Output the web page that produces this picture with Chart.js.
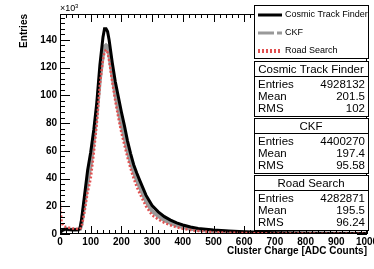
<!DOCTYPE html>
<html>
<head>
<meta charset="utf-8">
<script src="https://cdn.jsdelivr.net/npm/chart.js@4"></script>
<style>
  html, body { margin: 0; padding: 0; background: #fff; }
  #wrap { width: 374px; height: 269px; position: relative; }
</style>
</head>
<body>
<div id="wrap"><canvas id="myChart"></canvas></div>
<script>
// cluster charge (ADC counts), entries in units of 10^3
let charge = [0, 5, 10, 20, 30, 40, 50, 60, 65, 70, 80, 90, 100, 110, 120, 130, 140, 145, 150, 155, 160,
  170, 180, 190, 200, 210, 220, 230, 240, 250, 260, 280, 300, 320, 340, 360, 380, 400, 425, 450,
  500, 550, 600, 650, 700, 800, 900, 1000];
let ctfEntries = [1, 2, 3, 3.5, 3.2, 3, 3, 3.2, 4, 10, 28, 46, 59, 75, 95, 122, 142, 148, 148, 146, 140,
  124, 110, 99, 88, 78, 67, 58, 50, 44, 38.5, 28, 20.5, 16, 12.5, 10, 8, 6.5, 5, 4,
  2.9, 2.2, 1.6, 1.2, 0.9, 0.6, 0.4, 0.3];
let ckfEntries = [2, 2.5, 3, 3.5, 3.2, 3, 3, 3, 3.5, 7, 22, 38, 50, 68, 88, 112, 130, 135, 136, 135, 130,
  115, 101, 90, 79, 70, 60, 52, 45, 39, 34, 24, 16.5, 13, 10, 8, 6.3, 5, 3.8, 3,
  2.1, 1.5, 1.1, 0.8, 0.6, 0.4, 0.3, 0.2];
let rsEntries = [22, 9, 6, 5, 4.5, 4, 4, 3.5, 3.5, 5, 16, 30, 40, 58, 80, 108, 126, 131, 133, 131, 125,
  110, 96, 84, 73, 64, 55, 47, 40, 34, 29, 20, 13.5, 10.5, 8, 6.3, 4.8, 3.8, 2.8, 2.2,
  1.3, 1, 0.7, 0.5, 0.4, 0.3, 0.2, 0.2];

let seriesNames = ["Cosmic Track Finder", "CKF", "Road Search"];
let statEntries = ["4928132", "4400270", "4282871"];
let statMeans = ["201.5", "197.4", "195.5"];
let statRms = ["102", "95.58", "96.24"];

let xMax = 1000;
let yMax = 158.7;

function points(ys) {
  return charge.map((x, i) => ({ x: x, y: ys[i] }));
}

let font = "'Liberation Sans', Arial, sans-serif";

let frameTicks = {
  id: "frameTicks",
  afterDatasetsDraw(chart) {
    let c = chart.ctx;
    let a = chart.chartArea;
    let xs = chart.scales.x;
    let ys = chart.scales.y;
    c.save();
    c.strokeStyle = "#000";
    c.lineWidth = 1;
    c.strokeRect(a.left + 0.5, a.top + 0.5, a.right - a.left - 1, a.bottom - a.top - 1);
    c.beginPath();
    for (let v = 0; v <= xMax; v += 20) {
      let px = Math.round(xs.getPixelForValue(v)) + 0.5;
      let len = v % 100 === 0 ? 8 : 4;
      c.moveTo(px, a.bottom);
      c.lineTo(px, a.bottom - len);
      c.moveTo(px, a.top);
      c.lineTo(px, a.top + len);
    }
    for (let v = 0; v <= yMax; v += 4) {
      let py = Math.round(ys.getPixelForValue(v)) + 0.5;
      let len = v % 20 === 0 ? 10 : 5;
      c.moveTo(a.left, py);
      c.lineTo(a.left + len, py);
      c.moveTo(a.right, py);
      c.lineTo(a.right - len, py);
    }
    c.stroke();

    // x10^3 exponent label
    c.fillStyle = "#000";
    c.textBaseline = "middle";
    c.textAlign = "left";
    c.font = "9px " + font;
    c.fillText("\u00d710", a.left, 9);
    c.font = "6px " + font;
    c.fillText("3", a.left + 15, 6);
    c.restore();
  },
  afterDraw(chart) {
    let c = chart.ctx;
    let left = 254, right = 368;
    c.save();
    c.lineWidth = 1;
    c.strokeStyle = "#000";
    c.fillStyle = "#fff";

    // legend
    c.fillRect(left, 5, right - left, 53);
    c.strokeRect(left + 0.5, 5.5, right - left, 53);
    let styles = [
      { color: "#000", width: 3, dash: [] },
      { color: "#999", width: 3, dash: [16, 3, 5, 3] },
      { color: "rgb(225,80,80)", width: 4, dash: [2, 2] },
    ];
    for (let i = 0; i < 3; i++) {
      let y = 15 + i * 18;
      c.beginPath();
      c.strokeStyle = styles[i].color;
      c.lineWidth = styles[i].width;
      c.setLineDash(styles[i].dash);
      c.moveTo(258, y);
      c.lineTo(282, y);
      c.stroke();
      c.setLineDash([]);
      c.fillStyle = "#000";
      c.font = "9px " + font;
      c.textAlign = "left";
      c.textBaseline = "middle";
      c.fillText(seriesNames[i], 285, y);
    }

    // stat boxes
    c.strokeStyle = "#000";
    c.lineWidth = 1;
    for (let i = 0; i < 3; i++) {
      let top = 61 + i * 57;
      c.fillStyle = "#fff";
      c.fillRect(left, top, right - left, 55);
      c.strokeRect(left + 0.5, top + 0.5, right - left, 55);
      c.beginPath();
      c.moveTo(left, top + 15.5);
      c.lineTo(right, top + 15.5);
      c.stroke();
      c.fillStyle = "#000";
      c.font = "11.5px " + font;
      c.textBaseline = "middle";
      c.textAlign = "center";
      c.fillText(seriesNames[i], (left + right) / 2, top + 9);
      let rows = [["Entries", statEntries[i]], ["Mean", statMeans[i]], ["RMS", statRms[i]]];
      rows.forEach((r, j) => {
        let y = top + 23.5 + j * 12;
        c.textAlign = "left";
        c.fillText(r[0], left + 4, y);
        c.textAlign = "right";
        c.fillText(r[1], right - 3, y);
      });
    }
    c.restore();
  },
};

let ctx = document.getElementById("myChart").getContext("2d");

let myChart = new Chart(ctx, {
  type: "line",
  data: {
    datasets: [
      {
        label: seriesNames[0],
        data: points(ctfEntries),
        borderColor: "#000",
        borderWidth: 3,
        order: 1,
      },
      {
        label: seriesNames[1],
        data: points(ckfEntries),
        borderColor: "#999",
        borderWidth: 4,
        order: 2,
      },
      {
        label: seriesNames[2],
        data: points(rsEntries),
        borderColor: "rgb(225,80,80)",
        borderWidth: 2.5,
        borderDash: [2, 2],
        order: 0,
      },
    ],
  },
  options: {
    responsive: true,
    maintainAspectRatio: false,
    animation: false,
    elements: {
      point: { radius: 0 },
      line: { tension: 0, fill: false },
    },
    layout: {
      padding: { left: 0, top: 14, right: 7, bottom: 0 },
    },
    plugins: {
      legend: { display: false },
      tooltip: { enabled: false },
    },
    scales: {
      x: {
        type: "linear",
        min: 0,
        max: xMax,
        grid: { display: false, drawTicks: false },
        border: { display: false },
        ticks: {
          stepSize: 100,
          includeBounds: false,
          maxRotation: 0,
          autoSkip: false,
          padding: 2,
          color: "#000",
          font: { family: font, size: 10, weight: "bold" },
          callback: (v) => String(v),
        },
        title: {
          display: true,
          text: "Cluster Charge [ADC Counts]",
          align: "end",
          color: "#000",
          padding: { top: 0, bottom: 12 },
          font: { family: font, size: 10, weight: "bold" },
        },
        afterFit: function (scale) {
          scale.height = 35;
          scale.paddingLeft = 0;
          scale.paddingRight = 0;
        },
      },
      y: {
        min: 0,
        max: yMax,
        grid: { display: false, drawTicks: false },
        border: { display: false },
        ticks: {
          stepSize: 20,
          includeBounds: false,
          padding: 3,
          color: "#000",
          font: { family: font, size: 10, weight: "bold" },
          callback: (v) => String(v),
        },
        title: {
          display: true,
          text: "Entries",
          align: "end",
          color: "#000",
          padding: { top: 18, bottom: 0 },
          font: { family: font, size: 10, weight: "bold" },
        },
        afterFit: function (scale) {
          scale.width = 60;
          scale.paddingTop = 0;
          scale.paddingBottom = 0;
        },
      },
    },
  },
  plugins: [frameTicks],
});
</script>
</body>
</html>
